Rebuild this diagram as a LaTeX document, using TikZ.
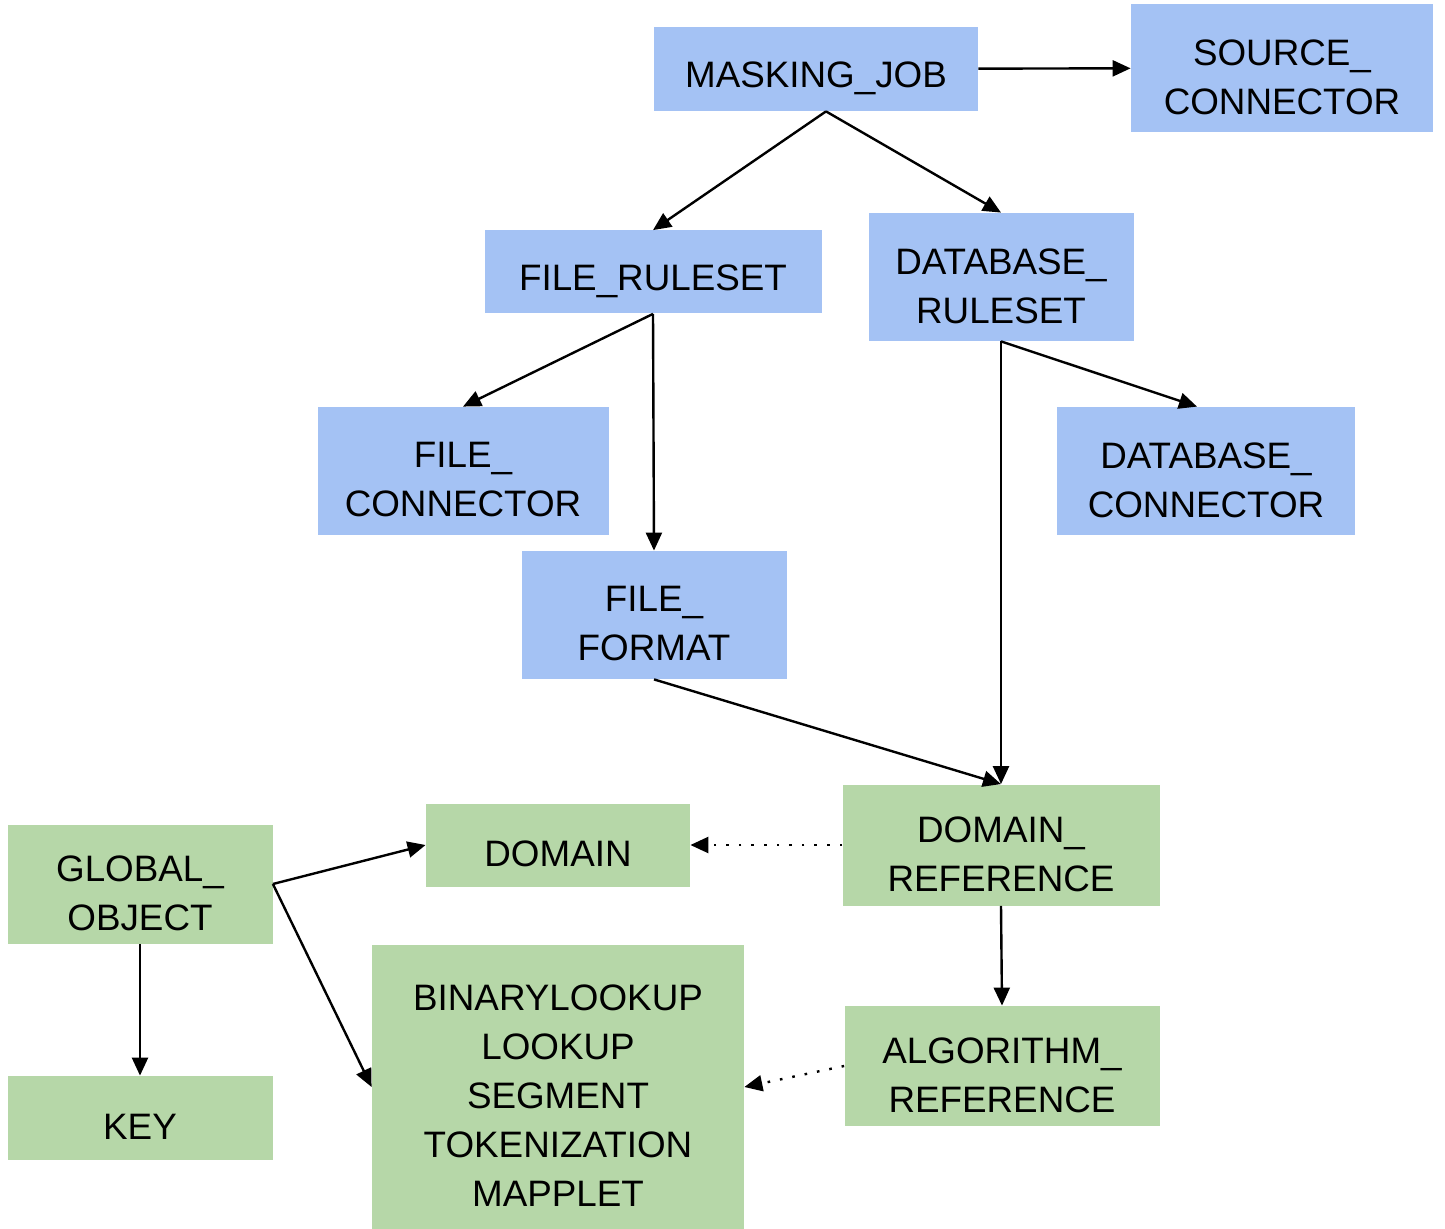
\documentclass[tikz,border=0pt]{standalone}
\usepackage{fontspec}
\setmainfont{Liberation Sans}
\usepackage{tikz}
\usetikzlibrary{arrows.meta, positioning}
\definecolor{boxblue}{HTML}{A4C2F4}
\definecolor{boxgreen}{HTML}{B6D7A8}
\tikzset{>={Triangle[length=9pt,width=8pt]},
every node/.style={inner sep=0pt, align=center, font=\fontsize{18.4}{24.5}\selectfont},
blu/.style={fill=boxblue},
grn/.style={fill=boxgreen},
txt/.style={label={[yshift=-4.5pt]center:#1}},
link/.style={->, line width=1.2pt},
weak/.style={->, line width=1.2pt, dash pattern=on 1.3pt off 5pt}}

\begin{document}
\begin{tikzpicture}[x=0.5pt,y=-0.5pt]
\useasboundingbox (0,0) rectangle (1445,1229);
\node[blu,minimum width=162pt,minimum height=42pt,txt={MASKING\_JOB}] (MJ) at (816,69) {};
\node[blu,minimum width=151pt,minimum height=64pt,txt={SOURCE\_\\CONNECTOR}] (SC) at (1282,68) {};
\node[blu,minimum width=168.5pt,minimum height=41.5pt,txt={FILE\_RULESET}] (FR) at (653,272) {};
\node[blu,minimum width=132.5pt,minimum height=64pt,txt={DATABASE\_\\RULESET}] (DR) at (1001,277) {};
\node[blu,minimum width=145.5pt,minimum height=64pt,txt={FILE\_\\CONNECTOR}] (FC) at (463,471) {};
\node[blu,minimum width=149pt,minimum height=64pt,txt={DATABASE\_\\CONNECTOR}] (DC) at (1206,471) {};
\node[blu,minimum width=132.5pt,minimum height=64pt,txt={FILE\_\\FORMAT}] (FF) at (654,615) {};
\node[grn,minimum width=158.5pt,minimum height=60.5pt,txt={DOMAIN\_\\REFERENCE}] (DRef) at (1001,845) {};
\node[grn,minimum width=132pt,minimum height=41.5pt,txt={DOMAIN}] (Dom) at (558,845) {};
\node[grn,minimum width=132.5pt,minimum height=59.5pt,txt={GLOBAL\_\\OBJECT}] (GO) at (140,884) {};
\node[grn,minimum width=132.5pt,minimum height=42pt,txt={KEY}] (Key) at (140,1118) {};
\node[grn,minimum width=186pt,minimum height=142pt,txt={BINARYLOOKUP\\LOOKUP\\SEGMENT\\TOKENIZATION\\MAPPLET}] (Alg) at (558,1087) {};
\node[grn,minimum width=157.5pt,minimum height=60pt,txt={ALGORITHM\_\\REFERENCE}] (ARef) at (1002,1066) {};
% solid links
\draw[link] (MJ) -- (SC);
\draw[link] ([xshift=5pt]MJ.south) -- (FR.north);
\draw[link] ([xshift=5pt]MJ.south) -- (DR.north);
\draw[link] (FR.south) -- (FC.north);
\draw[link] (FR.south) -- (FF.north);
\draw[link] (DR.south) -- ([xshift=-4.5pt]DC.north);
\draw[link] (DR.south) -- (DRef.north);
\draw[link] (FF.south) -- (DRef.north);
\draw[link] (DRef.south) -- (ARef.north);
\draw[link] (GO.east) -- (Dom.west);
\draw[link] (GO.east) -- (Alg.west);
\draw[link] (GO.south) -- (Key.north);
% dotted links
\draw[weak] (DRef.west) -- (Dom.east);
\draw[weak] (ARef.west) -- (Alg.east);
\end{tikzpicture}
\end{document}
